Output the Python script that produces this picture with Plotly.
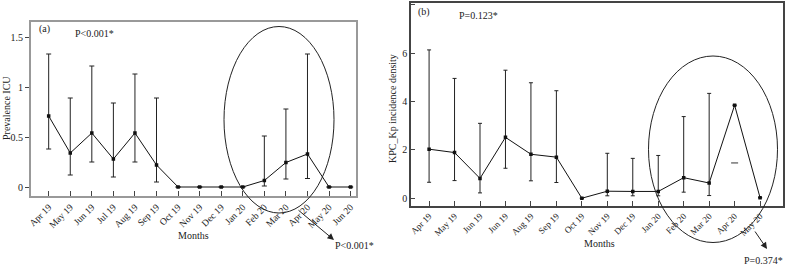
import plotly.graph_objects as go

W, H = 786, 267

# ---------------- data ----------------
months_a = ["Apr 19", "May 19", "Jun 19", "Jul 19", "Aug 19", "Sep 19", "Oct 19",
            "Nov 19", "Dec 19", "Jan 20", "Feb 20", "Mar 20", "Apr 20", "May 20", "Jun 20"]
prev_icu = [0.71, 0.34, 0.54, 0.28, 0.54, 0.22, 0, 0, 0, 0, 0.065, 0.245, 0.33, 0, 0]
prev_upper = [1.33, 0.89, 1.21, 0.84, 1.13, 0.89, None, None, None, None, 0.51, 0.78, 1.33, None, None]
prev_lower = [0.38, 0.12, 0.25, 0.10, 0.25, 0.05, None, None, None, None, 0.01, 0.08, 0.085, None, None]

months_b = ["Apr 19", "May 19", "Jun 19", "Jun 19", "Aug 19", "Sep 19", "Oct 19",
            "Nov 19", "Dec 19", "Jan 20", "Feb 20", "Mar 20", "Apr 20", "May 20"]
kpc_density = [2.03, 1.89, 0.82, 2.52, 1.82, 1.70, 0, 0.29, 0.28, 0.28, 0.85, 0.63, 3.85, 0.02]
kpc_upper = [6.14, 4.96, 3.10, 5.30, 4.78, 4.45, None, 1.86, 1.65, 1.77, 3.38, 4.34, None, None]
kpc_lower = [0.66, 0.73, 0.22, 1.24, 0.72, 0.65, None, 0.10, 0.10, 0.10, 0.25, 0.11, None, None]
kpc_apr20_mark = 1.46

FONT = "Liberation Serif, Times New Roman, serif"


def px(x):
    return x / W


def py(y):
    return 1 - y / H


def err(vals, up, lo):
    plus = [(u - v) if u is not None else 0 for v, u in zip(vals, up)]
    minus = [(v - l) if l is not None else 0 for v, l in zip(vals, lo)]
    return plus, minus


fig = go.Figure()

# panel a
pa, ma = err(prev_icu, prev_upper, prev_lower)
xa = list(range(len(months_a)))
fig.add_trace(go.Scatter(
    x=xa, y=prev_icu, mode="lines+markers",
    line=dict(color="#111", width=1),
    marker=dict(symbol="square", size=3.5, color="#111"),
    error_y=dict(type="data", symmetric=False, array=pa, arrayminus=ma,
                 color="#222", thickness=1, width=2.5),
    xaxis="x", yaxis="y", showlegend=False))

# panel b
pb, mb = err(kpc_density, kpc_upper, kpc_lower)
xb = list(range(len(months_b)))
fig.add_trace(go.Scatter(
    x=xb, y=kpc_density, mode="lines+markers",
    line=dict(color="#111", width=1),
    marker=dict(symbol="square", size=3.5, color="#111"),
    error_y=dict(type="data", symmetric=False, array=pb, arrayminus=mb,
                 color="#222", thickness=1, width=2),
    xaxis="x2", yaxis="y2", showlegend=False))
fig.add_trace(go.Scatter(
    x=[months_b.index("Apr 20")], y=[kpc_apr20_mark], mode="markers",
    marker=dict(symbol="line-ew", size=5, line=dict(color="#333", width=1)),
    xaxis="x2", yaxis="y2", showlegend=False))

axis_common = dict(showgrid=False, zeroline=False, ticklen=5,
                   tickcolor="#444",
                   showline=True, mirror=True, automargin=False)

fig.update_layout(
    width=W, height=H, margin=dict(l=0, r=0, t=0, b=0),
    paper_bgcolor="white", plot_bgcolor="white",
    font=dict(family=FONT, color="#222"),
    xaxis=dict(axis_common, domain=[px(31), px(356)], range=[-0.82, 14.25],
               tickmode="array", tickvals=xa, ticktext=months_a, tickangle=-45,
               tickfont=dict(family=FONT, size=9.5, color="#222"),
               ticks="inside", linecolor="#999", linewidth=2, anchor="y"),
    yaxis=dict(axis_common, domain=[py(196), py(22)], range=[-0.09, 1.65],
               tickmode="array", tickvals=[0, 0.5, 1, 1.5], ticktext=["0", "0.5", "1", "1.5"],
               tickfont=dict(family=FONT, size=10, color="#222"),
               ticks="outside", linecolor="#999", linewidth=2, anchor="x", ticklen=4),
    xaxis2=dict(axis_common, domain=[px(411), px(783)], range=[-0.71, 13.9],
                tickmode="array", tickvals=xb, ticktext=months_b, tickangle=-45,
                tickfont=dict(family=FONT, size=9, color="#222"),
                ticks="inside", linecolor="#444", linewidth=1.5, anchor="y2"),
    yaxis2=dict(axis_common, domain=[py(205.7), py(3.3)], range=[-0.31, 8.07],
                tickmode="array", tickvals=[0, 2, 4, 6, 8],
                tickfont=dict(family=FONT, size=10, color="#222"),
                ticks="inside", linecolor="#444", linewidth=1.5, anchor="x2", ticklen=4),
)

annots = [
    dict(x=px(37), y=py(29), text="(a)", xanchor="left", size=10),
    dict(x=px(94), y=py(34), text="P<0.001*", xanchor="center", size=10),
    dict(x=px(354), y=py(245), text="P<0.001*", xanchor="center", size=10),
    dict(x=px(193), y=py(235), text="Months", xanchor="center", size=10),
    dict(x=px(6), y=py(108), text="Prevalence ICU", xanchor="center", size=10, angle=-90),
    dict(x=px(416), y=py(12), text="(b)", xanchor="left", size=10),
    dict(x=px(478), y=py(15), text="P=0.123*", xanchor="center", size=10),
    dict(x=px(763), y=py(260), text="P=0.374*", xanchor="center", size=10),
    dict(x=px(599), y=py(243), text="Months", xanchor="center", size=10),
    dict(x=px(392), y=py(109), text="KPC_Kp incidence density", xanchor="center", size=10, angle=-90),
]
for a in annots:
    fig.add_annotation(x=a["x"], y=a["y"], xref="paper", yref="paper", text=a["text"],
                       showarrow=False, xanchor=a["xanchor"], yanchor="middle",
                       textangle=a.get("angle", 0),
                       font=dict(family=FONT, size=a["size"], color="#222"))

# arrows (pixel offsets from tip)
for (x0, y0, x1, y1) in [(297, 209, 334, 240), (754, 230, 767, 249)]:
    fig.add_annotation(x=px(x1), y=py(y1), ax=x0 - x1, ay=y0 - y1,
                       xref="paper", yref="paper", axref="pixel", ayref="pixel",
                       text="", showarrow=True, arrowhead=2, arrowsize=1.3,
                       arrowwidth=1, arrowcolor="#222")

# ellipses
fig.add_shape(type="circle", xref="paper", yref="paper",
              x0=px(224), x1=px(334), y0=py(213), y1=py(26.5),
              line=dict(color="#222", width=1))
fig.add_shape(type="circle", xref="paper", yref="paper",
              x0=px(648.5), x1=px(777.5), y0=py(242.5), y1=py(56),
              line=dict(color="#222", width=1))

fig.write_html("out.html", config={"displayModeBar": False},
               post_script="document.body.style.margin='0';document.body.style.overflow='hidden';")
